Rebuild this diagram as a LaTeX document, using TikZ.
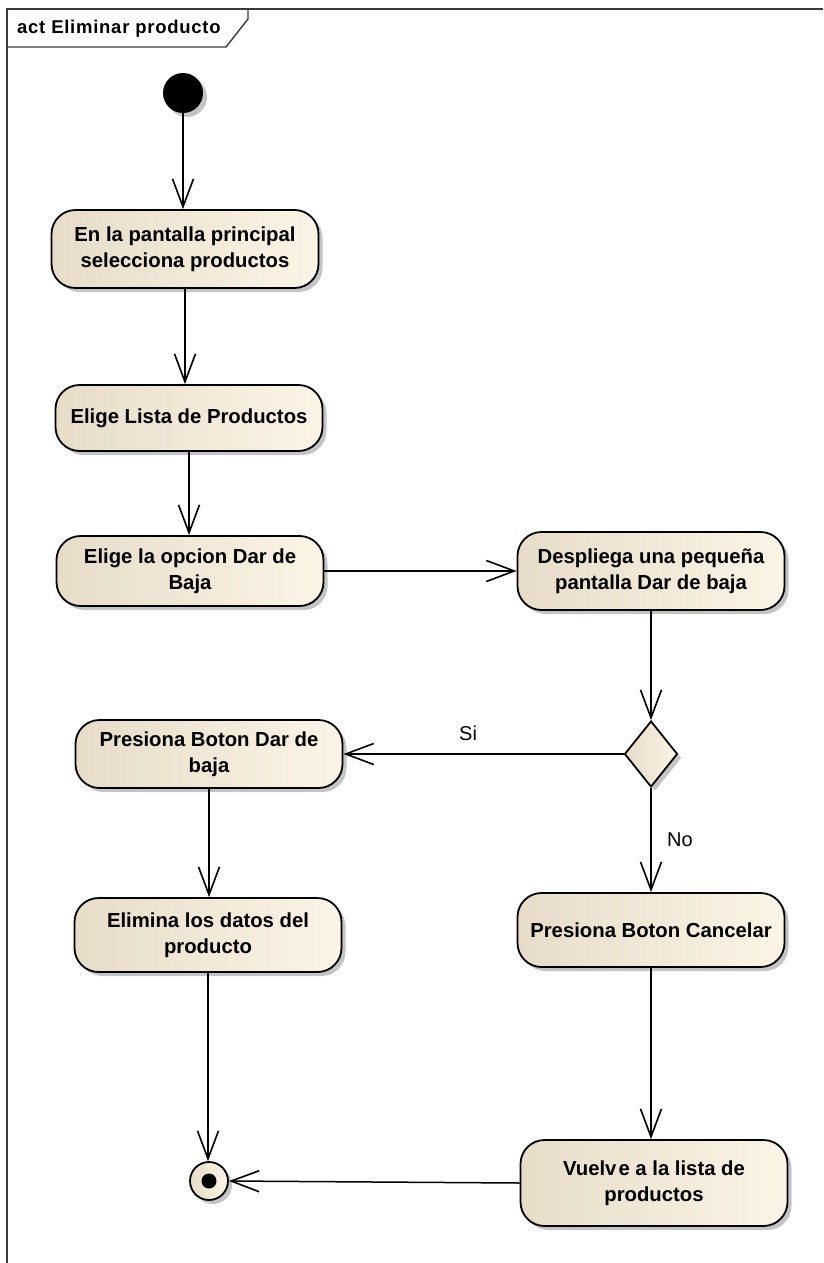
\documentclass[tikz,border=0pt]{standalone}
\usepackage{fontspec}
\setmainfont{Liberation Sans}
\newfontfamily\titlefont[LetterSpace=4]{Liberation Sans}
\usetikzlibrary{arrows.meta,shapes.geometric,shadows}

\definecolor{actL}{HTML}{E6DCC8}
\definecolor{actR}{HTML}{FCF4E6}
\definecolor{shadowgray}{HTML}{C4C4C4}
\definecolor{framecol}{HTML}{3A3A3A}

\begin{document}
\begin{tikzpicture}[x=1pt,y=-1pt,
  shade/.style={drop shadow={shadow xshift=4pt,shadow yshift=-4pt,fill=shadowgray,opacity=1}},
  act/.style={rectangle,rounded corners=24pt,draw=black,line width=1.8pt,
    left color=actL,right color=actR,shade,
    font=\bfseries\fontsize{20.3}{26}\selectfont,align=center,
    inner sep=0pt,minimum width=267pt},
  decision/.style={diamond,draw=black,line width=1.8pt,left color=actL,right color=actR,
    shade,inner sep=0pt,minimum width=53pt,minimum height=66pt},
  startnode/.style={circle,fill=black,minimum size=40pt,inner sep=0pt,shade},
  endnode/.style={circle,draw=black,line width=1.8pt,left color=actL,right color=actR,
    minimum size=38pt,inner sep=0pt,shade},
  flow/.style={draw,line width=1.5pt,-{Straight Barb[length=28pt,width=21pt,line width=1.6pt]}},
  guard/.style={font=\fontsize{20}{24}\selectfont}
]
\useasboundingbox (0,0) rectangle (823,1263);

% diagram frame and its name tab
\draw[framecol,line width=1.4pt] (7,1263) -- (7,9) -- (823,9);
\draw[framecol,line width=1.4pt] (7,47) -- (226,47) -- (248,19) -- (248,9);
\node[anchor=west,font=\titlefont\bfseries\fontsize{18.5}{20}\selectfont,inner sep=0pt] (title) at (17,29) {act Eliminar producto};

% actions
\node[startnode] (init) at (183,93) {};
\node[act,minimum height=78pt] (n2) at (185,249) {En la pantalla principal\\selecciona productos};
\node[act,minimum height=66pt] (n3) at (189,418) {Elige Lista de Productos};
\node[act,minimum height=70pt] (n4) at (190,571) {Elige la opcion Dar de\\Baja};
\node[act,minimum height=78pt] (n5) at (651,571) {Despliega una peque\~na\\pantalla Dar de baja};
\node[decision] (dec) at (651,754) {};
\node[act,minimum height=68pt] (n7) at (209,754) {Presiona Boton Dar de\\baja};
\node[act,minimum height=74pt] (n8) at (208,935) {Elimina los datos del\\producto};
\node[act,minimum height=74pt] (n9) at (651,930) {Presiona Boton Cancelar};
\node[act,minimum height=86pt] (n10) at (654,1183) {Vuelv\kern2pt e a la lista de\\productos};
\node[endnode] (fin) at (209,1181) {};
\fill (fin) circle (7.5pt);

% control flows
\draw[flow] (init) -- (init |- n2.north);
\draw[flow] (n2.south) -- (n2.south |- n3.north);
\draw[flow] (n3.south) -- (n3.south |- n4.north);
\draw[flow] (n4.east) -- (n5.west);
\draw[flow] (n5.south) -- (dec.north);
\draw[flow] (dec.west) -- node[guard,above=9pt,pos=0.555] (si) {Si} (n7.east);
\draw[flow] (dec.south) -- node[guard,right=12pt,pos=0.5] (no) {No} (n9.north);
\draw[flow] (n7.south) -- (n7.south |- n8.north);
\draw[flow] (n8.south) -- (n8.south |- fin.north);
\draw[flow] (n9.south) -- (n9.south |- n10.north);
\draw[flow] (n10.west) -- (fin.east);
\end{tikzpicture}
\end{document}
